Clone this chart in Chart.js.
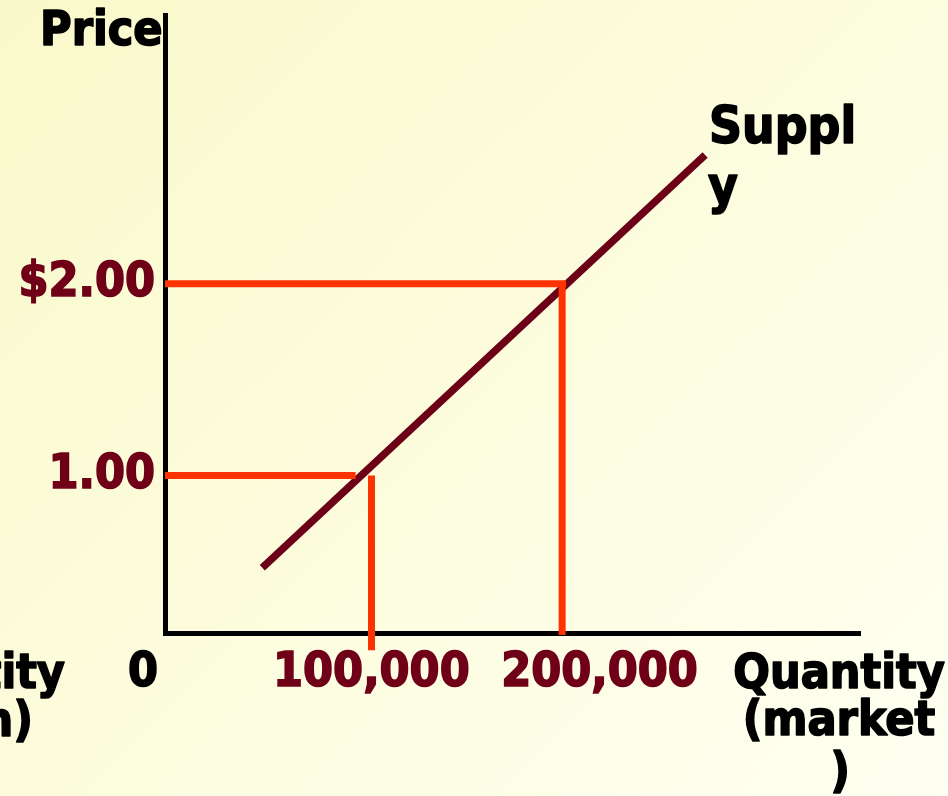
<!DOCTYPE html>
<html>
<head>
<meta charset="utf-8">
<script src="https://cdn.jsdelivr.net/npm/chart.js@4.4.1/dist/chart.umd.min.js"></script>
<style>
  html, body { margin: 0; padding: 0; }
  body { width: 948px; height: 796px; overflow: hidden;
         background: linear-gradient(135deg, #f9f9cb 0%, #fcfcdc 45%, #fffff2 100%); }
  #wrap { position: relative; width: 948px; height: 796px; }
</style>
</head>
<body>
<div id="wrap"><canvas id="c"></canvas></div>
<script>
// ---- data ----
const priceTicks = [1, 2];
const priceTickLabels = ['1.00', '$2.00'];
const quantityTicks = [0, 100000, 200000];
const quantityTickLabels = ['0', '100,000', '200,000'];

const supplyQuantity = [49000, 272000];
const supplyPrice = [0.52, 2.67];

const guidePrices = [1.00, 2.00];            // horizontal guide lines
const guideHorizontalEnd = [96000, 202000];  // where each horizontal guide stops
const guideDropQuantity = [104000, 200000];  // vertical drop lines
const guideDropBottom = [0.09, 0.17];        // where each drop line ends

// ---- styles ----
const MAROON = '#6f0018';
const SUPPLY_COLOR = '#6b0016';
const GUIDE_COLOR = '#ff3300';
const FONT = "'DejaVu Sans Condensed', 'DejaVu Sans', sans-serif";

const datasets = [];
guidePrices.forEach((p, i) => {
  datasets.push({
    data: [{x: 0, y: p}, {x: guideHorizontalEnd[i], y: p}],
    borderColor: GUIDE_COLOR, borderWidth: 7, borderCapStyle: 'butt',
    showLine: true, pointRadius: 0, clip: false, xAxisID: 'x', yAxisID: 'y'
  });
  datasets.push({
    data: [{x: guideDropQuantity[i], y: p}, {x: guideDropQuantity[i], y: guideDropBottom[i]}],
    borderColor: GUIDE_COLOR, borderWidth: 7, borderCapStyle: 'butt',
    showLine: true, pointRadius: 0, clip: false, xAxisID: 'x', yAxisID: 'y'
  });
});
datasets.push({
  data: supplyQuantity.map((q, i) => ({x: q, y: supplyPrice[i]})),
  borderColor: SUPPLY_COLOR, borderWidth: 7.5, borderCapStyle: 'butt',
  showLine: true, pointRadius: 0, clip: false, xAxisID: 'x', yAxisID: 'y'
});

const textLabels = [
  {text: 'Price', x: 40, y: 45, align: 'left', size: 48},
  {text: 'Suppl', x: 709, y: 143, align: 'left', size: 51},
  {text: 'y', x: 708, y: 203, align: 'left', size: 51},
  {text: 'Quantity', x: 839, y: 688, align: 'center', size: 48},
  {text: '(market', x: 839, y: 735, align: 'center', size: 48},
  {text: ')', x: 840, y: 787, align: 'center', size: 48},
  {text: 'tity', x: 65, y: 688, align: 'right', size: 48},
  {text: 'n)', x: 33, y: 736, align: 'right', size: 48}
];

const textPlugin = {
  id: 'texts',
  afterDraw(chart) {
    const ctx = chart.ctx;
    ctx.save();
    ctx.fillStyle = '#000';
    ctx.strokeStyle = '#000';
    ctx.lineWidth = 1.6;
    ctx.lineJoin = 'round';
    ctx.textBaseline = 'alphabetic';
    textLabels.forEach(t => {
      ctx.font = 'bold ' + t.size + 'px ' + FONT;
      ctx.textAlign = t.align;
      ctx.fillText(t.text, t.x, t.y);
      ctx.strokeText(t.text, t.x, t.y);
    });
    ctx.restore();
  }
};

const quantityLabelColor = (c) => (c.tick && c.tick.value === 0) ? '#000' : MAROON;

new Chart(document.getElementById('c'), {
  type: 'scatter',
  data: { datasets },
  plugins: [textPlugin],
  options: {
    responsive: true,
    maintainAspectRatio: false,
    animation: false,
    devicePixelRatio: 1,
    layout: { padding: { top: 15, right: 88, bottom: 0, left: 0 } },
    plugins: { legend: { display: false }, tooltip: { enabled: false } },
    scales: {
      x: {
        type: 'linear', position: 'bottom', display: false,
        min: 0, max: 350000
      },
      xl: {
        type: 'linear', position: 'bottom',
        min: 9600, max: 314100,
        afterBuildTicks: (s) => { s.ticks = quantityTicks.map(v => ({value: v})); },
        afterFit: (s) => { s.height = 163; s.paddingLeft = 0; s.paddingRight = 0; },
        grid: { display: false, drawTicks: false },
        border: { display: true, color: '#000', width: 5 },
        ticks: {
          padding: 12,
          autoSkip: false,
          maxRotation: 0,
          font: { family: FONT, size: 48, weight: 'bold' },
          color: quantityLabelColor,
          textStrokeColor: quantityLabelColor,
          textStrokeWidth: 1.6,
          callback: (v) => quantityTickLabels[quantityTicks.indexOf(v)]
        }
      },
      y: {
        type: 'linear', position: 'left',
        min: 0.18, max: 3.40,
        afterBuildTicks: (s) => { s.ticks = priceTicks.map(v => ({value: v})); },
        afterFit: (s) => { s.width = 165; s.paddingTop = 0; s.paddingBottom = 0; },
        grid: { display: false, drawTicks: false },
        border: { display: true, color: '#000', width: 5 },
        ticks: {
          padding: 10,
          autoSkip: false,
          font: { family: FONT, size: 48, weight: 'bold' },
          color: MAROON,
          textStrokeColor: MAROON,
          textStrokeWidth: 1.6,
          callback: (v) => priceTickLabels[priceTicks.indexOf(v)]
        }
      }
    }
  }
});
</script>
</body>
</html>
